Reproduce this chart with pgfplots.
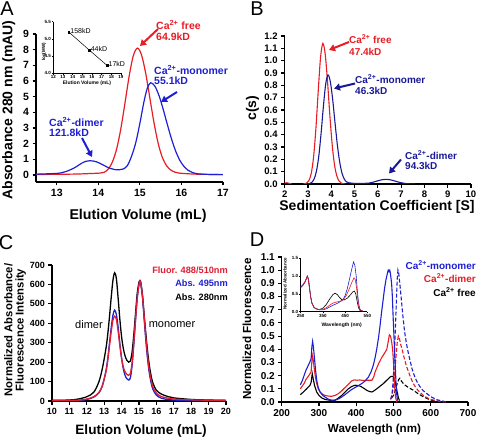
\documentclass[border=0pt]{standalone}
\usepackage{fontspec}
\setmainfont{Liberation Sans}
\usepackage{pgfplots}
\pgfplotsset{compat=1.18}
\usetikzlibrary{arrows.meta}
\definecolor{cred}{RGB}{232,28,36}
\definecolor{cblue}{RGB}{30,30,210}
\definecolor{cnavy}{RGB}{25,25,150}
\definecolor{ccred}{RGB}{222,30,50}
\newcommand{\fs}[1]{\fontsize{#1}{#1}\selectfont}
\pgfplotsset{
 prism/.style={scale only axis, axis lines*=left, axis line style={line width=1.1pt,-},
   tick align=outside, major tick length=3.5pt, tick style={line width=1.1pt,black},
   minor tick num=0, /pgf/number format/assume math mode=true},
 inset/.style={scale only axis, axis lines*=left, axis line style={line width=0.5pt,-},
   tick align=outside, major tick length=1.5pt, tick style={line width=0.5pt,black},
   /pgf/number format/assume math mode=true,
   tick label style={font=\bfseries\fs{4.5}, inner sep=0.8pt}},
}
\tikzset{arr/.style={line width=2pt,-{Triangle[length=6pt,width=7pt]}}}
\begin{document}
\begin{tikzpicture}
% ================= Panel A =================
\begin{axis}[prism, at={(36pt,255pt)}, anchor=south west, width=187pt, height=148pt,
 xmin=12.5, xmax=17, ymin=-0.45, ymax=9, xtick={13,14,15,16,17}, ytick={0,1,...,9},
 tick label style={font=\bfseries\fs{10.5}}]
\addplot[cred, line width=1.2pt, smooth] coordinates {(12.5,0.03)(13.0,0.04)(13.5,0.06)(13.8,0.09)(14.04,0.12)(14.14,0.17)(14.24,0.38)(14.34,0.84)(14.44,1.65)(14.54,2.93)(14.64,4.57)(14.74,6.28)(14.84,7.60)(14.94,8.10)(15.04,7.66)(15.14,6.49)(15.24,4.91)(15.34,3.33)(15.44,2.02)(15.54,1.12)(15.64,0.60)(15.74,0.32)(15.84,0.18)(15.94,0.12)(16.2,0.07)(16.5,0.04)(17.0,0.03)};
\addplot[cblue, line width=1.2pt, smooth] coordinates {(12.5,0.05)(13.0,0.1)(13.2,0.2)(13.4,0.42)(13.5,0.58)(13.6,0.75)(13.7,0.87)(13.8,0.91)(13.9,0.88)(14.0,0.79)(14.1,0.66)(14.2,0.52)(14.3,0.41)(14.4,0.34)(14.5,0.33)(14.6,0.38)(14.7,0.6)(14.8,1.2)(14.9,2.05)(15.0,3.3)(15.1,4.7)(15.18,5.55)(15.26,5.89)(15.36,5.67)(15.46,5.07)(15.56,4.20)(15.66,3.23)(15.76,2.31)(15.86,1.53)(15.96,0.94)(16.06,0.55)(16.16,0.30)(16.26,0.16)(16.4,0.07)(16.7,0.03)(17.0,0.02)};
\end{axis}
% inset A
\begin{axis}[inset, at={(53.3pt,363.7pt)}, anchor=south west, width=67.7pt, height=51.6pt,
 xmin=12, xmax=19, ymin=4, ymax=5.5, xtick={12,...,19}, ytick={4,4.5,5,5.5},
 y tick label style={/pgf/number format/fixed, /pgf/number format/fixed zerofill, /pgf/number format/precision=1}, clip=false]
\addplot[black, line width=0.5pt, mark=square*, mark size=0.9pt] coordinates {(13.6,5.2)(15.7,4.68)(17.55,4.23)};
\node[anchor=west, font=\fs{7}, inner sep=1pt] at (axis cs:13.65,5.24) {158kD};
\node[anchor=west, font=\fs{7}, inner sep=1pt] at (axis cs:15.75,4.72) {44kD};
\node[anchor=west, font=\fs{7}, inner sep=1pt] at (axis cs:17.6,4.27) {17kD};
\end{axis}
\node[rotate=90, font=\bfseries\fs{4.5}] at (44pt,385pt) {log(MW)};
\node[font=\bfseries\fs{5}] at (87pt,354pt) {Elution Volume (mL)};
% ================= Panel B =================
\begin{axis}[prism, at={(284.7pt,253pt)}, anchor=south west, width=186.3pt, height=148pt,
 xmin=2, xmax=10, ymin=0, ymax=1.2, xtick={2,...,10}, ytick={0,0.1,...,1.2},
 tick label style={font=\bfseries\fs{9.5}},
 y tick label style={/pgf/number format/fixed, /pgf/number format/fixed zerofill, /pgf/number format/precision=1}]
\addplot[cred, line width=1.1pt] coordinates {(2.0,0.008)(2.1,0.01)(2.2,0.004)(2.3,0)};
\addplot[cred, line width=1.1pt, smooth] coordinates {(2.8,0)(2.94,0.007)(3.04,0.028)(3.14,0.086)(3.24,0.218)(3.34,0.45)(3.44,0.754)(3.54,1.028)(3.64,1.14)(3.74,1.052)(3.84,0.828)(3.94,0.555)(4.04,0.317)(4.14,0.154)(4.24,0.064)(4.34,0.023)(4.44,0.006)(4.6,0)};
\addplot[cnavy, line width=1.1pt, smooth] coordinates {(3.0,0)(3.06,0.003)(3.16,0.013)(3.26,0.039)(3.36,0.101)(3.46,0.22)(3.56,0.405)(3.66,0.625)(3.76,0.81)(3.86,0.884)(3.96,0.829)(4.06,0.685)(4.16,0.498)(4.26,0.319)(4.36,0.18)(4.46,0.089)(4.56,0.039)(4.66,0.017)(4.76,0.01)(4.9,0.006)(5.2,0.004)(5.5,0.006)(5.6,0.0066)(5.8,0.0148)(6.0,0.026)(6.2,0.0354)(6.35,0.038)(6.5,0.0354)(6.7,0.026)(6.9,0.0148)(7.1,0.0066)(7.3,0.002)(7.6,0)};
\end{axis}
% ================= Panel C =================
\begin{axis}[prism, at={(52pt,36pt)}, anchor=south west, width=174pt, height=136pt,
 xmin=10, xmax=20, ymin=0, ymax=700, xtick={10,...,20}, ytick={0,100,...,700},
 tick label style={font=\bfseries\fs{9}}]
\addplot[black, line width=1.3pt, smooth] coordinates {(10,3)(11,5)(11.5,10)(12,22)(12.4,45)(12.7,100)(12.9,170)(13.1,270)(13.2,340)(13.3,430)(13.4,530)(13.5,620)(13.6,660)(13.7,630)(13.8,530)(13.9,420)(14.0,330)(14.1,270)(14.2,232)(14.3,210)(14.4,200)(14.5,205)(14.6,250)(14.7,340)(14.8,450)(14.9,555)(15.0,612)(15.05,621)(15.1,612)(15.2,545)(15.3,440)(15.4,340)(15.5,250)(15.6,180)(15.7,128)(15.8,92)(16.0,55)(16.3,35)(16.7,22)(17,16)(18,8)(19,5)(20,3)};
\addplot[cblue, line width=1.3pt, smooth] coordinates {(10,2)(11.5,3)(12,8)(12.4,20)(12.7,42)(12.9,80)(13.1,155)(13.2,215)(13.3,295)(13.4,375)(13.5,440)(13.6,468)(13.7,445)(13.8,380)(13.9,295)(14.0,220)(14.1,165)(14.2,132)(14.3,115)(14.4,108)(14.5,118)(14.6,180)(14.7,290)(14.8,415)(14.9,530)(15.0,600)(15.05,617)(15.1,605)(15.2,535)(15.3,420)(15.4,305)(15.5,210)(15.6,140)(15.7,92)(15.8,60)(16.0,30)(16.3,14)(16.7,7)(17,5)(18,3)(20,2)};
\addplot[ccred, line width=1.3pt, smooth] coordinates {(10,2)(11,3)(11.5,4)(12,10)(12.4,22)(12.7,45)(12.9,80)(13.1,150)(13.2,205)(13.3,280)(13.4,355)(13.5,415)(13.6,437)(13.7,420)(13.8,360)(13.9,285)(14.0,220)(14.1,175)(14.2,150)(14.3,137)(14.4,132)(14.5,140)(14.6,195)(14.7,300)(14.8,420)(14.9,530)(15.0,600)(15.05,618)(15.1,608)(15.2,540)(15.3,430)(15.4,320)(15.5,225)(15.6,155)(15.7,105)(15.8,72)(16.0,40)(16.3,22)(16.7,14)(17,10)(18,6)(19,4)(20,3)};
\end{axis}
% ================= Panel D =================
\begin{axis}[prism, at={(281.7pt,35pt)}, anchor=south west, width=186.3pt, height=145pt,
 xmin=200, xmax=700, ymin=0, ymax=1.1, xtick={200,300,...,700}, ytick={0,0.1,...,1.1},
 tick label style={font=\bfseries\fs{10}},
 y tick label style={/pgf/number format/fixed, /pgf/number format/fixed zerofill, /pgf/number format/precision=1}]
\addplot[black, line width=1.1pt] coordinates {(250,0.056)(258,0.075)(267,0.10)(272,0.115)(276,0.127)(279,0.15)(282,0.215)(285,0.17)(288,0.127)(291,0.10)(294,0.076)(300,0.05)(308,0.03)(316,0.02)(325,0.015)(334,0.012)(343,0.013)(352,0.03)(361,0.05)(370,0.075)(379,0.10)(388,0.118)(397,0.127)(404,0.125)(411,0.12)(420,0.105)(428,0.089)(435,0.08)(442,0.076)(448,0.085)(455,0.10)(464,0.12)(473,0.14)(482,0.165)(491,0.19)(496,0.195)(500,0.19)(504,0.16)(507,0.12)(510,0.075)(513,0.035)(516,0.01)};
\addplot[black, line width=1.1pt, dash pattern=on 4pt off 2pt] coordinates {(495,0.03)(500,0.05)(505,0.09)(510,0.14)(514,0.17)(517,0.18)(521,0.16)(525,0.145)(530,0.13)(540,0.11)(553,0.09)(565,0.065)(580,0.04)(595,0.02)(607,0.01)(625,0)};
\addplot[cred, line width=1.1pt] coordinates {(250,0.10)(255,0.12)(260,0.14)(265,0.17)(270,0.19)(275,0.21)(279,0.23)(281,0.31)(283,0.35)(285,0.31)(288,0.24)(291,0.18)(294,0.14)(298,0.10)(303,0.076)(310,0.058)(316,0.05)(325,0.045)(334,0.043)(343,0.05)(352,0.063)(361,0.085)(370,0.11)(379,0.135)(388,0.16)(395,0.168)(402,0.165)(410,0.167)(420,0.163)(430,0.165)(442,0.165)(447,0.19)(451,0.23)(460,0.29)(469,0.34)(476,0.37)(482,0.40)(486,0.46)(489,0.51)(492,0.50)(495,0.46)(498,0.39)(500,0.30)(502,0.18)(504,0.08)(506,0.03)(509,0.0)};
\addplot[cred, line width=1.1pt, dash pattern=on 4pt off 2pt] coordinates {(492,0.02)(496,0.05)(500,0.12)(504,0.24)(507,0.35)(510,0.45)(513,0.50)(516,0.48)(520,0.43)(524,0.39)(530,0.32)(535,0.27)(544,0.2)(553,0.14)(565,0.09)(580,0.05)(595,0.025)(607,0.015)(625,0.005)(640,0)};
\addplot[cblue, line width=1.1pt] coordinates {(250,0.13)(255,0.16)(260,0.20)(265,0.24)(270,0.27)(275,0.30)(279,0.33)(281,0.42)(283,0.46)(285,0.42)(288,0.33)(291,0.24)(294,0.165)(298,0.11)(303,0.076)(310,0.05)(316,0.038)(325,0.022)(334,0.013)(341,0.014)(348,0.018)(355,0.027)(361,0.038)(370,0.056)(379,0.076)(388,0.095)(397,0.11)(406,0.125)(415,0.14)(424,0.16)(433,0.19)(440,0.23)(446,0.28)(451,0.34)(455,0.40)(460,0.49)(464,0.58)(468,0.68)(472,0.77)(476,0.86)(480,0.93)(484,0.98)(486,1.0)(488,0.99)(490,1.0)(492,0.97)(495,0.9)(497,0.8)(499,0.65)(501,0.52)(503,0.39)(505,0.26)(507,0.13)(509,0.05)(511,0.01)};
\addplot[cblue, line width=1.1pt, dash pattern=on 4pt off 2pt] coordinates {(493,0.02)(496,0.06)(499,0.15)(502,0.32)(505,0.55)(508,0.78)(510,0.93)(512,1.0)(514,0.98)(517,0.9)(521,0.78)(525,0.66)(530,0.53)(535,0.44)(540,0.37)(544,0.32)(550,0.25)(556,0.2)(562,0.16)(570,0.12)(580,0.085)(589,0.065)(600,0.04)(616,0.018)(630,0.008)(645,0)};
\end{axis}
% inset D
\begin{axis}[inset, at={(300.7pt,125.3pt)}, anchor=south west, width=66.6pt, height=53.4pt,
 xmin=250, xmax=550, ymin=0, ymax=1.5, xtick={250,350,450,550}, ytick={0,0.5,1,1.5},
 y tick label style={/pgf/number format/fixed, /pgf/number format/fixed zerofill, /pgf/number format/precision=1}]
\addplot[black, line width=0.6pt] coordinates {(250,0.68)(260,0.74)(270,0.84)(280,1.0)(285,0.9)(290,0.65)(295,0.42)(300,0.25)(310,0.12)(320,0.08)(335,0.06)(350,0.1)(365,0.2)(380,0.35)(395,0.48)(405,0.52)(415,0.48)(425,0.4)(435,0.34)(445,0.33)(460,0.38)(475,0.48)(485,0.56)(492,0.58)(498,0.5)(504,0.3)(510,0.12)(516,0.04)(525,0.02)};
\addplot[cblue, line width=0.6pt] coordinates {(250,0.70)(260,0.76)(270,0.85)(280,1.0)(285,0.9)(290,0.65)(295,0.42)(300,0.25)(310,0.12)(320,0.08)(335,0.05)(350,0.05)(365,0.08)(380,0.13)(395,0.18)(410,0.22)(425,0.27)(440,0.33)(450,0.45)(460,0.65)(470,0.92)(480,1.2)(488,1.4)(494,1.3)(500,1.0)(505,0.6)(510,0.28)(515,0.1)(520,0.04)(530,0.02)};
\addplot[cred, line width=0.6pt] coordinates {(250,0.68)(260,0.74)(270,0.84)(280,1.0)(285,0.9)(290,0.65)(295,0.42)(300,0.25)(310,0.12)(320,0.08)(335,0.06)(350,0.07)(365,0.11)(380,0.18)(395,0.24)(410,0.27)(425,0.29)(440,0.33)(455,0.45)(470,0.66)(480,0.82)(490,0.95)(496,0.9)(502,0.65)(508,0.3)(514,0.1)(520,0.04)(530,0.02)};
\end{axis}
\node[rotate=90, font=\bfseries\fs{4.5}] at (285pt,153.5pt) {Normalized Absorbance};
\node[font=\bfseries\fs{5}] at (341.7pt,112pt) {Wavelength (nm)};
% ================= Labels =================
\node[font=\fs{20}] at (7pt,428pt) {A};
\node[font=\fs{20}] at (257pt,428.5pt) {B};
\node[font=\fs{20}] at (6pt,194pt) {C};
\node[font=\fs{20}] at (257pt,197pt) {D};
\node[rotate=90, anchor=base, font=\bfseries\fs{14}] at (12.5pt,327pt) {Absorbance 280 nm (mAU)};
\node[anchor=base, font=\bfseries\fs{14.2}] at (138pt,217pt) {Elution Volume (mL)};
\node[rotate=90, anchor=base, font=\bfseries\fs{14}] at (256pt,329pt) {c(s)};
\node[anchor=base, font=\bfseries\fs{14}] at (377pt,226.3pt) {Sedimentation Coefficient [S]};
\node[rotate=90, align=center, font=\bfseries\fs{11.3}, text depth=0pt] at (14pt,107pt) {\fontsize{11.3}{13.4}\selectfont Normalized Absorbance/\\Fluorescence Intensity};
\node[anchor=base, font=\bfseries\fs{13.6}] at (141pt,2.3pt) {Elution Volume (mL)};
\node[rotate=90, anchor=base, font=\bfseries\fs{11.7}] at (251pt,108pt) {Normalized Fluorescence};
\node[anchor=base, font=\bfseries\fs{11.6}] at (374.5pt,4.7pt) {Wavelength (nm)};
% annotations A
\node[anchor=west, text=cred, font=\bfseries\fs{10.5}, inner sep=0pt] at (156pt,412pt) {Ca\textsuperscript{2+} free};
\node[anchor=west, text=cred, font=\bfseries\fs{10.5}, inner sep=0pt] at (156pt,400pt) {64.9kD};
\draw[cred, arr] (158pt,408pt) -- (140pt,391pt);
\node[anchor=west, text=cblue, font=\bfseries\fs{10.5}, inner sep=0pt] at (154pt,367pt) {Ca\textsuperscript{2+}-monomer};
\node[anchor=west, text=cblue, font=\bfseries\fs{10.5}, inner sep=0pt] at (154pt,356pt) {55.1kD};
\draw[cblue, arr] (177pt,345pt) -- (161pt,335pt);
\node[anchor=west, text=cblue, font=\bfseries\fs{10.5}, inner sep=0pt] at (49pt,315pt) {Ca\textsuperscript{2+}-dimer};
\node[anchor=west, text=cblue, font=\bfseries\fs{10.5}, inner sep=0pt] at (49pt,304pt) {121.8kD};
\draw[cblue, arr] (82pt,299pt) -- (92pt,280pt);
% annotations B
\node[anchor=west, text=cred, font=\bfseries\fs{10}, inner sep=0pt] at (349pt,398pt) {Ca\textsuperscript{2+} free};
\node[anchor=west, text=cred, font=\bfseries\fs{10}, inner sep=0pt] at (349pt,385pt) {47.4kD};
\draw[cred, arr] (349pt,395pt) -- (329pt,387pt);
\node[anchor=west, text=cnavy, font=\bfseries\fs{10}, inner sep=0pt] at (355pt,358pt) {Ca\textsuperscript{2+}-monomer};
\node[anchor=west, text=cnavy, font=\bfseries\fs{10}, inner sep=0pt] at (355pt,346pt) {46.3kD};
\draw[cnavy, arr] (355pt,353.5pt) -- (334pt,348.5pt);
\node[anchor=west, text=cnavy, font=\bfseries\fs{10}, inner sep=0pt] at (405pt,282pt) {Ca\textsuperscript{2+}-dimer};
\node[anchor=west, text=cnavy, font=\bfseries\fs{10}, inner sep=0pt] at (405pt,271pt) {94.3kD};
\draw[cnavy, arr] (401pt,277.5pt) -- (389pt,263.5pt);
% annotations C
\node[anchor=east, text=ccred, font=\bfseries\fs{9.2}, inner sep=0pt] at (228pt,167pt) {Fluor. 488/510nm};
\node[anchor=east, text=cblue, font=\bfseries\fs{9.2}, inner sep=0pt] at (228pt,154pt) {Abs. 495nm};
\node[anchor=east, text=black, font=\bfseries\fs{9.2}, inner sep=0pt] at (228pt,140pt) {Abs. 280nm};
\node[font=\fs{11}] at (89pt,112pt) {dimer};
\node[font=\fs{11}] at (172pt,112pt) {monomer};
% annotations D
\node[anchor=east, text=cblue, font=\bfseries\fs{10}, inner sep=0pt] at (476pt,172pt) {Ca\textsuperscript{2+}-monomer};
\node[anchor=east, text=cred, font=\bfseries\fs{10}, inner sep=0pt] at (476pt,159pt) {Ca\textsuperscript{2+}-dimer};
\node[anchor=east, text=black, font=\bfseries\fs{10}, inner sep=0pt] at (476pt,145pt) {Ca\textsuperscript{2+} free};
\pgfresetboundingbox
\useasboundingbox (0pt,0pt) rectangle (477pt,437pt);
\end{tikzpicture}
\end{document}
